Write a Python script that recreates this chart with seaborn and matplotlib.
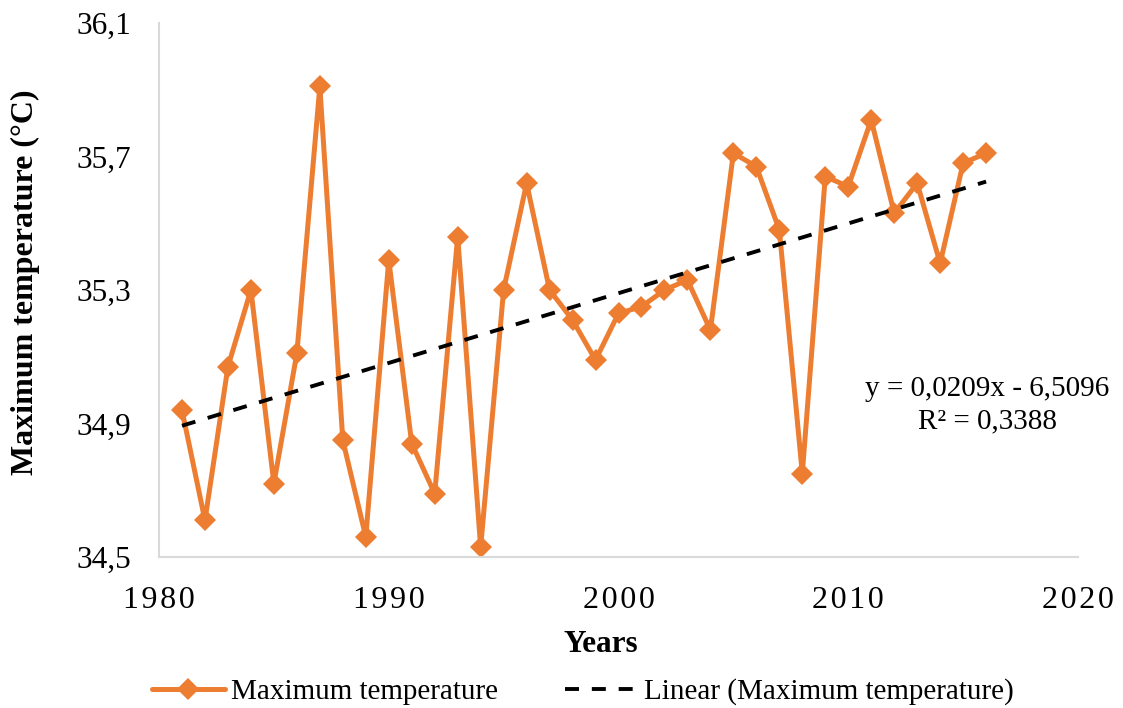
import numpy as np
import pandas as pd
import matplotlib
matplotlib.use("Agg")
import matplotlib.pyplot as plt
import seaborn as sns

years = list(range(1981, 2017))
max_temp = [34.94, 34.61, 35.07, 35.30, 34.72, 35.11, 35.91, 34.85, 34.56, 35.39,
            34.84, 34.69, 35.46, 34.53, 35.30, 35.62, 35.30, 35.21, 35.09, 35.23,
            35.25, 35.30, 35.33, 35.18, 35.71, 35.67, 35.48, 34.75, 35.64, 35.61,
            35.81, 35.53, 35.62, 35.38, 35.68, 35.71]
slope = 0.0209
intercept = -6.5096
r_squared = "0,3388"
y_ticks = [34.5, 34.9, 35.3, 35.7, 36.1]
y_tick_labels = ["34,5", "34,9", "35,3", "35,7", "36,1"]
x_ticks = [1980, 1990, 2000, 2010, 2020]

sns.set_style("white")
plt.rcParams["font.family"] = ["Liberation Serif", "DejaVu Serif"]
plt.rcParams["text.color"] = "black"
plt.rcParams["xtick.color"] = "black"
plt.rcParams["ytick.color"] = "black"
plt.rcParams["axes.labelcolor"] = "black"

df = pd.DataFrame({"Year": years, "Tmax": max_temp})
df["Trend"] = slope * df["Year"] + intercept

W, H = 1123, 708
fig = plt.figure(figsize=(W / 100, H / 100), dpi=100)
ax = fig.add_axes([159 / W, 1 - 557 / H, (1078 - 159) / W, (557 - 23) / H])

orange = "#ED7D31"
sns.lineplot(data=df, x="Year", y="Tmax", ax=ax, color=orange, linewidth=3.6,
             marker="D", markersize=11.5, markeredgewidth=0,
             label="Maximum temperature")
sns.lineplot(data=df, x="Year", y="Trend", ax=ax, color="black", linewidth=2.8,
             label="Linear (Maximum temperature)")
trend_line = ax.lines[-1]
trend_line.set_linestyle((0, (3.6, 3.3)))
trend_line.set_dash_capstyle("butt")

ax.set_xlim(1980, 2020)
ax.set_ylim(34.5, 36.1)
ax.set_xticks(x_ticks)
# slightly spaced digits on the year axis
ax.set_xticklabels(["\u200a".join(str(v)) for v in x_ticks], fontsize=23)
ax.set_yticks(y_ticks)
ax.set_yticklabels(y_tick_labels, fontsize=22.5)
ax.tick_params(axis="both", length=0)
ax.tick_params(axis="y", pad=20)
ax.tick_params(axis="x", pad=21)

for side in ["top", "right"]:
    ax.spines[side].set_visible(False)
for side in ["left", "bottom"]:
    ax.spines[side].set_color("#D9D9D9")
    ax.spines[side].set_linewidth(1.5)

ax.set_xlabel("")
ax.set_ylabel("")
fig.text(601 / W, 1 - 645 / H, "Years", fontsize=22.5, fontweight="bold",
         ha="center", va="center")
fig.text(25 / W, 1 - 282 / H, "Maximum temperature (°C)", fontsize=23,
         fontweight="bold", rotation=90, ha="center", va="center")

ax.text(2016.05, 34.955, "y = 0,0209x - 6,5096\nR² = " + r_squared,
        fontsize=21, ha="center", va="center", linespacing=1.32)

leg = ax.legend(loc="center left", bbox_to_anchor=(152 / W, 1 - 692 / H),
                bbox_transform=fig.transFigure, ncol=2, frameon=False,
                fontsize=21, handlelength=2.5, handletextpad=0.2,
                columnspacing=2.3, borderpad=0, borderaxespad=0)

fig.savefig("out.png", dpi=100)
